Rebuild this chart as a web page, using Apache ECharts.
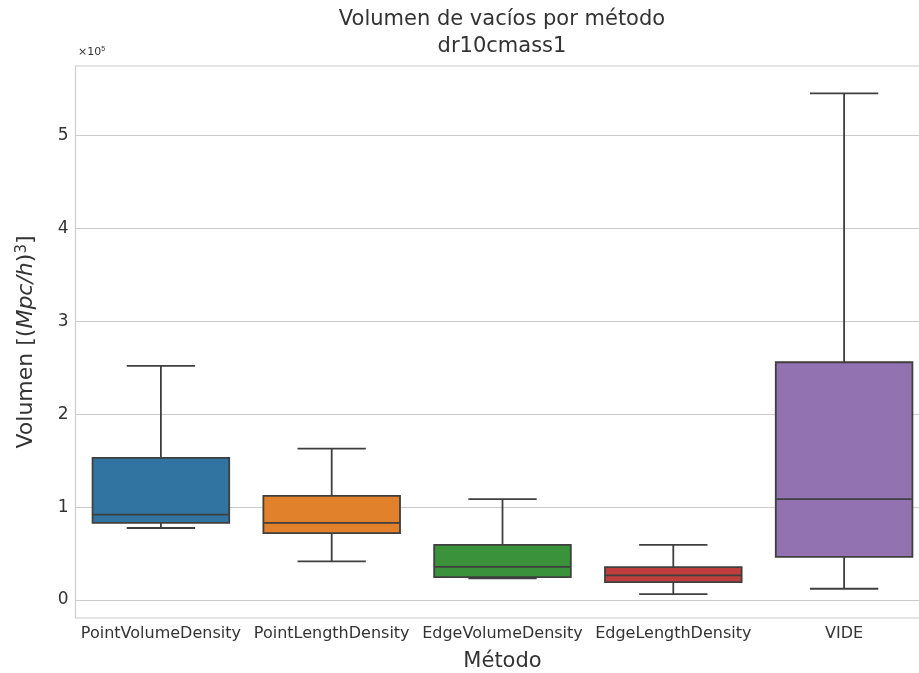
<!DOCTYPE html>
<html lang="es">

<head>
    <meta charset="UTF-8">
    <title>Volumen de vacíos por método</title>
    <style>
        html, body { margin: 0; padding: 0; background: #fff; }
    </style>
</head>

<body>
    <div id="main" style="width: 919px; height: 673px"></div>
    <script src="https://cdn.jsdelivr.net/npm/echarts@6/dist/echarts.min.js"></script>
    <script type="text/javascript">
        // datos (volumen en (Mpc/h)^3)
        var categories = ['PointVolumeDensity', 'PointLengthDensity', 'EdgeVolumeDensity', 'EdgeLengthDensity', 'VIDE'];
        var whiskerLow = [77500, 41500, 23200, 6400, 12100];
        var q1 = [83000, 72000, 24700, 19300, 46400];
        var median = [92000, 83000, 35700, 26500, 108500];
        var q3 = [153000, 112000, 59300, 35400, 256000];
        var whiskerHigh = [252000, 163000, 108500, 59300, 545500];
        var yTicks = [0, 100000, 200000, 300000, 400000, 500000];

        var boxColors = ['#3274a1', '#e1812c', '#3a923a', '#c03d3e', '#9372b2'];
        var edgeColor = '#3f3f3f';
        var font = 'DejaVu Sans';

        var myChart = echarts.init(document.getElementById('main'));

        var boxData = categories.map(function (c, i) {
            return [i, whiskerLow[i], q1[i], median[i], q3[i], whiskerHigh[i]];
        });

        // caja estilo seaborn: bigotes con tapa de medio ancho
        function renderBox(params, api) {
            var i = api.value(0);
            var band = api.size([1, 0])[0];
            var hw = band * 0.4;
            var cw = band * 0.2;
            var lo = api.coord([i, api.value(1)]);
            var b1 = api.coord([i, api.value(2)]);
            var md = api.coord([i, api.value(3)]);
            var b3 = api.coord([i, api.value(4)]);
            var hi = api.coord([i, api.value(5)]);
            var x = lo[0];
            var ls = { stroke: edgeColor, lineWidth: 1.8 };
            return {
                type: 'group',
                children: [
                    { type: 'line', shape: { x1: x, y1: b3[1], x2: x, y2: hi[1] }, style: ls },
                    { type: 'line', shape: { x1: x, y1: lo[1], x2: x, y2: b1[1] }, style: ls },
                    { type: 'line', shape: { x1: x - cw, y1: hi[1], x2: x + cw, y2: hi[1] }, style: ls },
                    { type: 'line', shape: { x1: x - cw, y1: lo[1], x2: x + cw, y2: lo[1] }, style: ls },
                    {
                        type: 'rect',
                        shape: { x: x - hw, y: b3[1], width: hw * 2, height: b1[1] - b3[1] },
                        style: { fill: boxColors[i], stroke: edgeColor, lineWidth: 1.8 }
                    },
                    { type: 'line', shape: { x1: x - hw, y1: md[1], x2: x + hw, y2: md[1] }, style: ls }
                ]
            };
        }

        var option = {
            backgroundColor: '#ffffff',
            animation: false,
            textStyle: { fontFamily: font },
            title: {
                text: 'Volumen de vacíos por método\ndr10cmass1',
                left: 497,
                top: 1,
                textAlign: 'center',
                textStyle: {
                    fontFamily: font,
                    fontSize: 21,
                    fontWeight: 'normal',
                    color: '#333333',
                    lineHeight: 27
                }
            },
            graphic: [{
                type: 'text',
                left: 78,
                top: 46,
                style: {
                    text: '×10{s|5}',
                    font: '11px ' + font,
                    fill: '#333333',
                    rich: { s: { fontSize: 7, verticalAlign: 'top', padding: [0, 0, 6, 0] } }
                }
            }],
            grid: {
                left: 75.5,
                top: 66,
                width: 854,
                height: 552,
                outerBoundsMode: 'none',
                show: true,
                borderColor: '#cccccc',
                borderWidth: 1.2
            },
            xAxis: {
                type: 'category',
                data: categories,
                name: 'Método',
                nameLocation: 'middle',
                nameGap: 33,
                nameTextStyle: { fontSize: 21, color: '#333333', fontFamily: font },
                axisLine: { show: false },
                axisTick: { show: false },
                axisLabel: { fontSize: 16, color: '#333333', margin: 8, interval: 0, fontFamily: font }
            },
            yAxis: {
                type: 'value',
                min: -19400,
                max: 575000,
                name: 'Volumen [({i|Mpc/h}){s|3}]',
                nameLocation: 'middle',
                nameGap: 38,
                nameTextStyle: {
                    fontSize: 22,
                    color: '#333333',
                    fontFamily: font,
                    rich: {
                        i: { fontSize: 22, fontStyle: 'italic', color: '#333333', fontFamily: font },
                        s: { fontSize: 15, color: '#333333', fontFamily: font, verticalAlign: 'top', padding: [0, 0, 8, 0] }
                    }
                },
                axisLine: { show: false },
                axisTick: { show: false, customValues: yTicks },
                axisLabel: {
                    fontSize: 17,
                    color: '#333333',
                    margin: 7,
                    fontFamily: font,
                    customValues: yTicks,
                    formatter: function (v) { return String(Math.round(v / 100000)); }
                },
                splitLine: { show: true, lineStyle: { color: '#cccccc', width: 1.2 } }
            },
            series: [{
                type: 'custom',
                renderItem: renderBox,
                data: boxData,
                encode: { x: 0, y: [1, 2, 3, 4, 5] }
            }]
        };
        myChart.setOption(option);
    </script>

</body>

</html>
